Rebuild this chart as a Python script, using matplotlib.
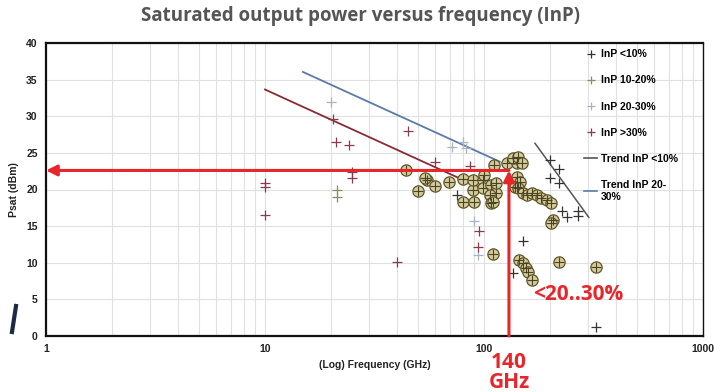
import matplotlib
matplotlib.use("Agg")
import matplotlib.pyplot as plt
from matplotlib.lines import Line2D

# ---- data ----
lt10_f = [75, 135, 150, 326, 200, 220, 200, 220, 226, 268, 240, 268]
lt10_p = [19.2, 8.6, 13.0, 1.2, 24.0, 22.8, 21.6, 20.9, 17.1, 17.1, 16.2, 16.4]

p10_20_f = [21.3, 21.3]
p10_20_p = [20.0, 19.0]

p20_30_f = [20, 71.6, 80, 83, 90, 94]
p20_30_p = [32.0, 25.8, 26.5, 25.6, 15.7, 11.0]

gt30_f = [10, 10, 10, 20.4, 21.1, 24.1, 44.9, 24.9, 24.9, 86, 59.7, 95, 94, 40]
gt30_p = [20.9, 20.4, 16.5, 29.6, 26.5, 26.1, 28.0, 22.4, 21.6, 23.2, 23.7, 14.3, 12.1, 10.1]

circ_f = [44, 50, 55, 60, 69, 53.5, 80, 80, 89, 90, 89, 99, 99, 108, 114, 111, 107, 108,
          114, 128, 141, 141, 135, 143, 149, 141, 146, 139, 143, 150, 157, 165, 175, 183,
          193, 203, 207, 202, 110, 145, 150, 155, 158, 165, 220, 325, 100, 110]
circ_p = [22.6, 19.8, 21.3, 20.5, 21.0, 21.6, 18.3, 21.4, 20.0, 18.3, 21.3, 21.3, 20.2,
          20.6, 19.5, 23.3, 19.2, 18.1, 20.9, 23.6, 23.6, 20.3, 24.3, 24.4, 23.6, 21.7,
          21.0, 20.3, 20.2, 19.5, 19.2, 19.5, 19.2, 18.8, 18.6, 18.1, 15.8, 15.4, 11.2,
          10.4, 10.0, 9.3, 8.7, 7.6, 10.1, 9.4, 22.0, 18.3]

trend_lt10_f = [171, 301]
trend_lt10_p = [26.3, 16.2]
trend_20_30_f = [14.9, 118]
trend_20_30_p = [36.05, 23.8]
trend_gt30_f = [10, 100]
trend_gt30_p = [33.65, 20.0]

marker_f = 130
marker_p = 22.6

# ---- figure ----
fig = plt.figure(figsize=(7.15, 3.92), dpi=100)
ax = fig.add_axes([46/715, 1-336/392, (703-46)/715, (336-43)/392])
ax.set_xscale("log")
ax.set_xlim(1, 1000)
ax.set_ylim(0, 40)
ax.set_yticks(range(0, 41, 5))
ax.set_xticks([1, 10, 100, 1000])
ax.set_xticklabels(["1", "10", "100", "1000"])
ax.minorticks_on()
ax.yaxis.set_minor_locator(matplotlib.ticker.NullLocator())
ax.xaxis.set_minor_formatter(matplotlib.ticker.NullFormatter())
ax.grid(True, which="both", axis="x", color="#e0e0e0", lw=0.8)
ax.grid(True, which="major", axis="y", color="#e0e0e0", lw=0.8)
ax.set_axisbelow(True)
ax.tick_params(which="both", length=0, labelsize=7.5, colors="#222222", pad=6)
for lab in ax.get_xticklabels() + ax.get_yticklabels():
    lab.set_fontweight("bold")
    lab.set_family("Liberation Sans")
for s in ax.spines.values():
    s.set_color("#111111")
    s.set_linewidth(1.0)
ax.spines["left"].set_linewidth(1.6)
ax.spines["bottom"].set_linewidth(1.6)
ax.spines["top"].set_linewidth(1.6)

# trend lines
ax.plot(trend_gt30_f, trend_gt30_p, color="#8a2a35", lw=1.3, zorder=3)
ax.plot(trend_20_30_f, trend_20_30_p, color="#5a7aaa", lw=1.3, zorder=3)
ax.plot(trend_lt10_f, trend_lt10_p, color="#555555", lw=1.1, zorder=3)

# circled points
ax.scatter(circ_f, circ_p, s=66, marker="o", facecolor="#d3ca9e", edgecolor="#5e5628",
           lw=0.9, zorder=4)
ax.scatter(circ_f, circ_p, s=50, marker="+", color="#4a4420", lw=0.8, zorder=5)

# plus series
ms = 7
ax.plot(lt10_f, lt10_p, ls="none", marker="+", ms=ms, mew=0.9, color="#333333", zorder=6)
ax.plot(p10_20_f, p10_20_p, ls="none", marker="+", ms=ms, mew=0.9, color="#8c8c5c", zorder=6)
ax.plot(p20_30_f, p20_30_p, ls="none", marker="+", ms=ms, mew=0.9, color="#a9b3c6", zorder=6)
ax.plot(gt30_f, gt30_p, ls="none", marker="+", ms=ms, mew=0.9, color="#8a3a4e", zorder=6)

# red arrows
ax.annotate("", xy=(1.0, marker_p), xytext=(marker_f, marker_p),
            arrowprops=dict(arrowstyle="-|>", color="#e8262a", lw=2.2,
                            mutation_scale=16, shrinkA=0, shrinkB=0), zorder=7)
ax.annotate("", xy=(marker_f, marker_p), xytext=(marker_f, 0),
            arrowprops=dict(arrowstyle="-|>", color="#e8262a", lw=2.2,
                            mutation_scale=16, shrinkA=0, shrinkB=0), zorder=7)

ax.text(168, 5.7, "<20..30%", color="#e8262a", fontsize=15, fontweight="bold",
        family="Open Sans", ha="left", va="center", zorder=8)
fig.text(509/715, 1-363/392, "140", color="#e8262a", fontsize=15, fontweight="bold",
         family="Open Sans", ha="center", va="center")
fig.text(509/715, 1-383/392, "GHz", color="#e8262a", fontsize=15, fontweight="bold",
         family="Open Sans", ha="center", va="center")

# labels
ax.set_xlabel("(Log) Frequency (GHz)", fontsize=7.5, fontweight="bold",
              family="Liberation Sans", color="#222222", labelpad=4)
ax.set_ylabel("Psat (dBm)", fontsize=7.5, fontweight="bold",
              family="Liberation Sans", color="#222222", labelpad=5)
fig.text(360/715, 1-16/392, "Saturated output power versus frequency (InP)",
         ha="center", va="center", fontsize=13.5, fontweight="bold",
         family="Open Sans", color="#555555")

# legend
handles = [
    Line2D([], [], ls="none", marker="+", ms=6, mew=0.9, color="#333333"),
    Line2D([], [], ls="none", marker="+", ms=6, mew=0.9, color="#8c8c5c"),
    Line2D([], [], ls="none", marker="+", ms=6, mew=0.9, color="#a9b3c6"),
    Line2D([], [], ls="none", marker="+", ms=6, mew=0.9, color="#8a3a4e"),
    Line2D([], [], color="#555555", lw=1.2),
    Line2D([], [], color="#5a7aaa", lw=1.2),
]
labels = ["InP <10%", "InP 10-20%", "InP 20-30%", "InP >30%",
          "Trend InP <10%", "Trend InP 20-\n30%"]
leg = ax.legend(handles, labels, loc="upper left", bbox_to_anchor=(0.81, 1.0),
                frameon=False, labelspacing=1.55, handlelength=1.2,
                handletextpad=0.4, borderaxespad=0.2,
                prop=dict(family="Liberation Sans", weight="bold", size=7.5))

# decorative slash on the left edge
fig.add_artist(Line2D([12/715, 16/715], [1-332/392, 1-306/392], color="#1c2a44", lw=3))

fig.savefig("out.png", dpi=100)
